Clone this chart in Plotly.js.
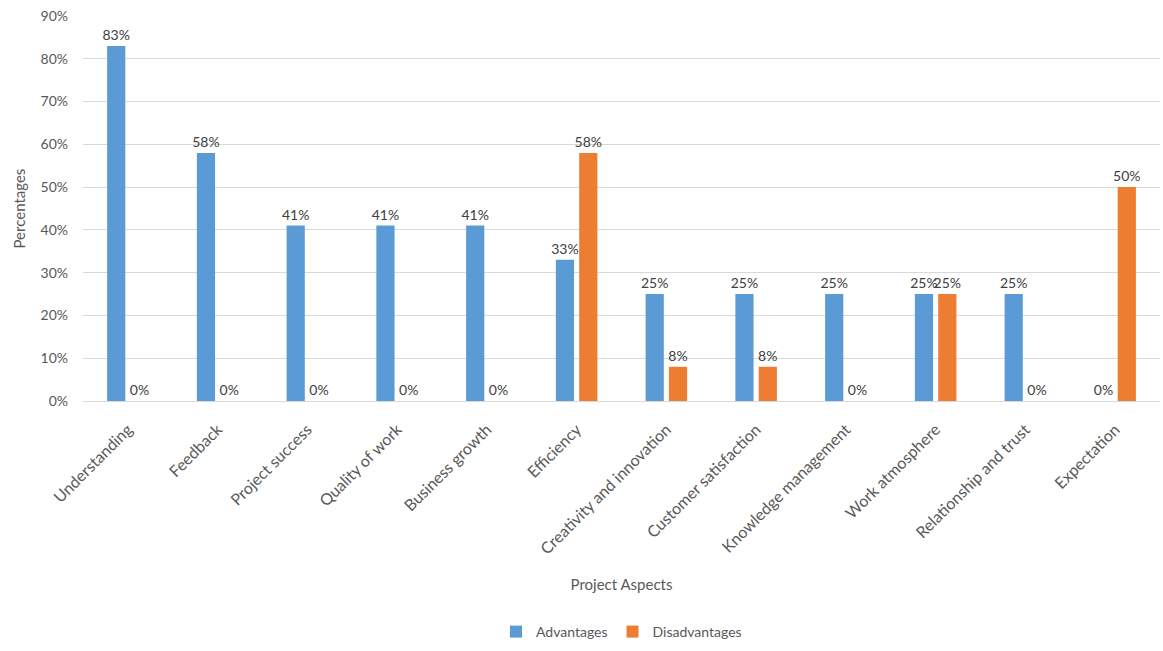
<!DOCTYPE html>
<html>
<head>
<meta charset="utf-8">
<script src="https://cdn.plot.ly/plotly-3.0.1.min.js"></script>
<style>html,body{margin:0;padding:0;background:#fff;}#chart{width:1163px;height:651px;}</style>
</head>
<body>
<div id="chart"></div>
<script>
const categories = ["Understanding","Feedback","Project success","Quality of work","Business growth","Efficiency","Creativity and innovation","Customer satisfaction","Knowledge management","Work atmosphere","Relationship and trust","Expectation"];
const advantages = [0.83,0.58,0.41,0.41,0.41,0.33,0.25,0.25,0.25,0.25,0.25,0];
const disadvantages = [0,0,0,0,0,0.58,0.08,0.08,0,0.25,0,0.50];
const yTicks = [0,0.1,0.2,0.3,0.4,0.5,0.6,0.7,0.8,0.9];

const fontFam = "Lato, 'Open Sans', sans-serif";
const txtColor = "#595959";

const traces = [
  {type:"bar", name:"Advantages", x:categories, y:advantages, marker:{color:"#5b9bd5"},
   texttemplate:"%{y:.0%}", textposition:"outside", cliponaxis:false, constraintext:"none",
   textfont:{family:fontFam,size:14,color:"#404040"}, hoverinfo:"x+y"},
  {type:"bar", name:"Disadvantages", x:categories, y:disadvantages, marker:{color:"#ed7d31"},
   texttemplate:"%{y:.0%}", textposition:"outside", cliponaxis:false, constraintext:"none",
   textfont:{family:fontFam,size:14,color:"#404040"}, hoverinfo:"x+y"}
];

const layout = {
  width:1163, height:651,
  margin:{l:83, r:3, t:16, b:241},
  paper_bgcolor:"#fff", plot_bgcolor:"#fff",
  font:{family:fontFam, size:14, color:txtColor},
  barmode:"group", bargap:0.48, bargroupgap:0.22,
  showlegend:true,
  legend:{orientation:"h", x:0.5, xanchor:"center", y:-0.6, yanchor:"middle",
          font:{family:fontFam,size:14,color:txtColor}, itemwidth:30, traceorder:"normal"},
  xaxis:{
    tickangle:-45, automargin:false, ticklabelstandoff:12,
    tickfont:{family:fontFam,size:16,color:txtColor},
    showline:true, linecolor:"#d9d9d9", linewidth:1, ticks:"",
    title:{text:"Project Aspects", font:{family:fontFam,size:15,color:txtColor}, standoff:22}
  },
  yaxis:{
    range:[0,0.9], tickvals:yTicks, tickformat:".0%", automargin:false, ticklabelstandoff:14,
    tickfont:{family:fontFam,size:14,color:txtColor},
    gridcolor:"#d9d9d9", gridwidth:1, zeroline:false, showline:false, ticks:"", ticklen:0
  },
  annotations:[{
    text:"Percentages", xref:"paper", yref:"paper", x:-65/1077, y:0.5,
    xanchor:"center", yanchor:"middle", textangle:-90, showarrow:false,
    font:{family:fontFam,size:15,color:txtColor}
  }]
};

Plotly.newPlot("chart", traces, layout, {displayModeBar:false, staticPlot:true});
</script>
</body>
</html>
